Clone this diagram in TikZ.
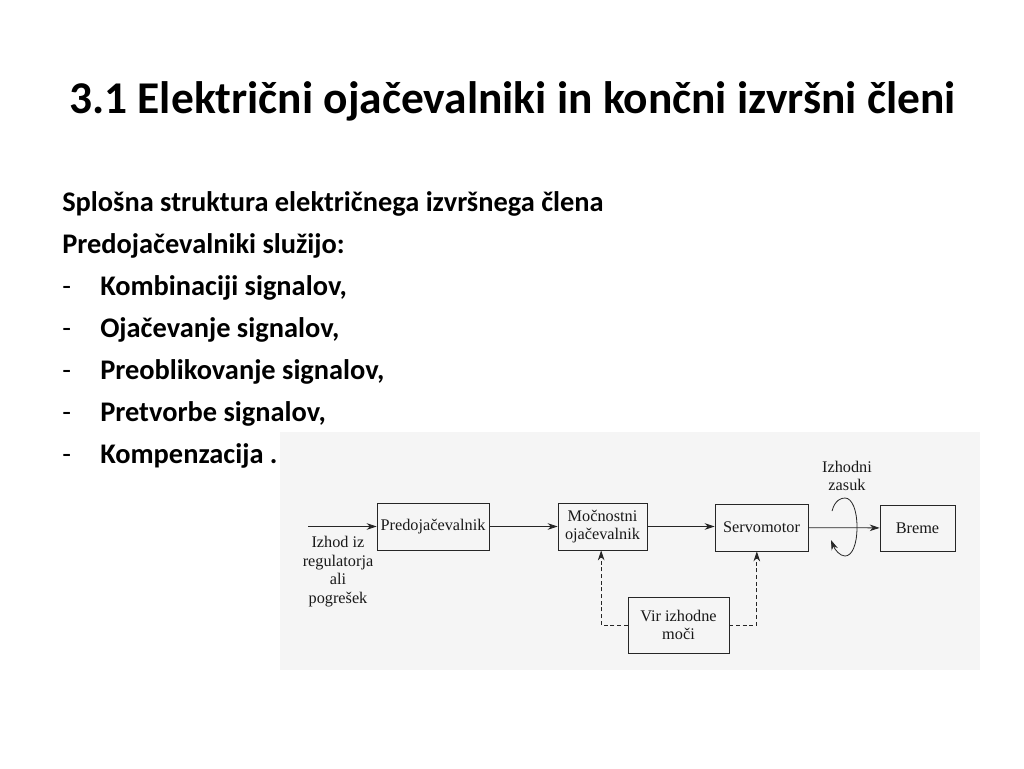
\documentclass[tikz,border=0pt]{standalone}
\usepackage{fontspec}
\setmainfont{Carlito}
\newfontfamily\diafont{Liberation Serif}
\usetikzlibrary{arrows.meta}
\tikzset{
  blk/.style={draw=black!85, line width=0.6pt, rectangle, inner sep=0pt, align=center, font=\diafont\fontsize{12.2pt}{13.9pt}\selectfont, text=black!90},
  lbl/.style={inner sep=0pt, align=center, font=\diafont\fontsize{12.2pt}{13.9pt}\selectfont, text=black!90},
  conn/.style={draw=black!85, line width=0.6pt, -{Stealth[length=7.5pt,width=5pt]}},
  dconn/.style={conn, dashed, dash pattern=on 3pt off 2pt},
  body/.style={anchor=base west, inner sep=0pt, font=\bfseries\fontsize{21.3pt}{25pt}\selectfont},
  dsh/.style={anchor=base west, inner sep=0pt, font=\fontsize{21.3pt}{25pt}\selectfont},
}
\begin{document}
\begin{tikzpicture}[x=0.75pt, y=-0.75pt]
\useasboundingbox (0,0) rectangle (1024,768);
\fill[white] (0,0) rectangle (1024,768);
% scanned figure background
\fill[black!4] (280,432) rectangle (980,670);

\node[anchor=base west, inner sep=0pt, font=\bfseries\fontsize{34.1pt}{38pt}\selectfont] (title) at (69,113) {3.1 Električni ojačevalniki in končni izvršni členi};

\node[body] (l1) at (62,211) {Splošna struktura električnega izvršnega člena};
\node[body] (l2) at (62,253) {Predojačevalniki služijo:};
\node[dsh] (d3) at (62,295) {-}; \node[body] (l3) at (100,295) {Kombinaciji signalov,};
\node[dsh] (d4) at (62,337) {-}; \node[body] (l4) at (100,337) {Ojačevanje signalov,};
\node[dsh] (d5) at (62,379) {-}; \node[body] (l5) at (100,379) {Preoblikovanje signalov,};
\node[dsh] (d6) at (62,421) {-}; \node[body] (l6) at (100,421) {Pretvorbe signalov,};
\node[dsh] (d7) at (62,463) {-}; \node[body] (l7) at (100,463) {Kompenzacija .};

% diagram
\node[blk, minimum width=84pt, minimum height=35.25pt] (pre) at (433,526.5) {Predojačevalnik};
\node[blk, minimum width=66.75pt, minimum height=35.25pt] (moc) at (602.5,526.5) {Močnostni\\ojačevalnik};
\node[blk, minimum width=69.75pt, minimum height=35.25pt] (servo) at (761.5,527.5) {Servomotor};
\node[blk, minimum width=56.25pt, minimum height=34.5pt] (breme) at (917.5,528) {Breme};
\node[blk, minimum width=75.75pt, minimum height=42pt] (vir) at (678.5,625) {Vir izhodne\\moči};

\coordinate (in) at (308,526.5);
\node[lbl, anchor=north] (inlbl) at (338,536) {Izhod iz\\regulatorja\\ali\\pogrešek};
\node[lbl] (zasuk) at (847,476) {Izhodni\\zasuk};

\draw[conn] (in) -- (pre);
\draw[conn] (pre) -- (moc);
\draw[conn] (moc.east) -- (servo.west |- moc.east);
\draw[conn] (servo) -- (breme);
\draw[dconn] (vir.west) -| ([xshift=-1pt]moc.south);
\draw[dconn] (vir.east) -| ([xshift=-3.5pt]servo.south);

% rotation symbol
\draw[conn] (832,511) .. controls (835,500) and (841,498) .. (845,498)
  .. controls (852,498) and (857,510) .. (857,527)
  .. controls (857,545) and (852,556) .. (845,556)
  .. controls (840,556) and (835,550) .. (831,540);
\end{tikzpicture}
\end{document}
